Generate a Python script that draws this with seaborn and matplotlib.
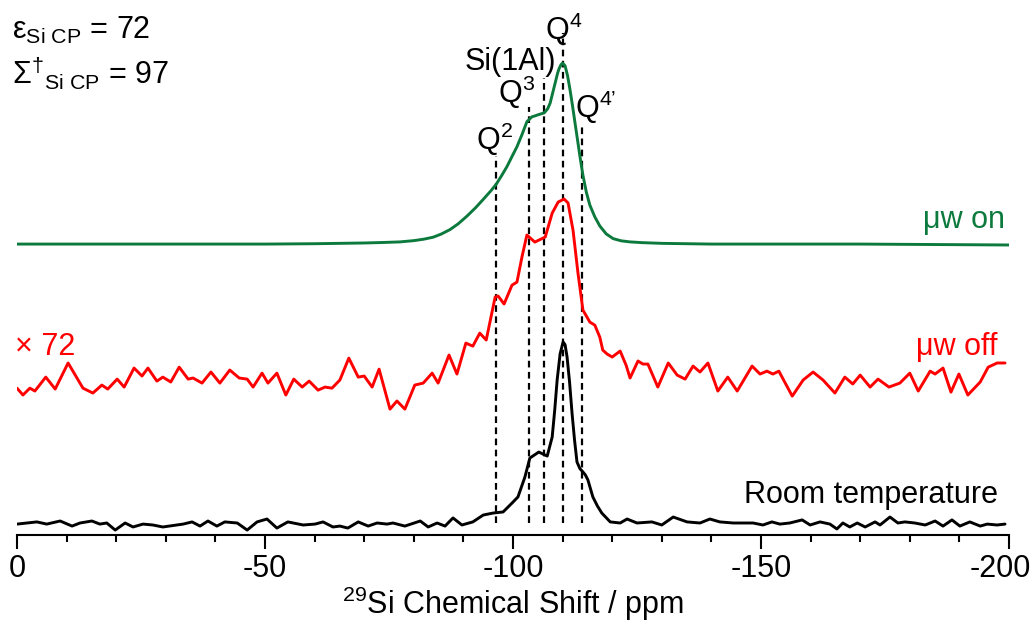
import numpy as np
import pandas as pd
import matplotlib
matplotlib.use("Agg")
import matplotlib.pyplot as plt
import matplotlib.transforms as mtransforms
import seaborn as sns

# ---------------- data ----------------
# chemical shift in ppm, normalised intensity
green_ppm = [0, -30, -50, -60, -65, -70, -74, -77.2, -80, -82, -83.9, -85.5, -87.3, -89,
             -90.7, -92.5, -94.0, -95.5, -96.6, -97.7, -98.8, -99.8, -100.8, -101.8,
             -102.8, -103.8, -104.4, -105.0, -106.3, -107.0, -107.5, -108.0, -108.5,
             -109.0, -109.3, -109.7, -110.0, -110.5, -111.0, -111.5, -112.0, -112.5,
             -113.0, -113.5, -114.1, -114.8, -115.5, -116.5, -117.5, -118.8, -120.2,
             -121.8, -123.6, -126, -130, -140, -170, -200]
green_int = [0.0, 0.0, 0.0, 0.002, 0.004, 0.006, 0.009, 0.012, 0.019, 0.027, 0.038, 0.055,
             0.080, 0.113, 0.154, 0.202, 0.247, 0.293, 0.330, 0.378, 0.429, 0.484, 0.538,
             0.604, 0.676, 0.703, 0.708, 0.714, 0.725, 0.748, 0.780, 0.835, 0.890,
             0.945, 0.970, 0.992, 1.0, 0.985, 0.930, 0.852, 0.764, 0.670,
             0.577, 0.484, 0.380, 0.285, 0.215, 0.150, 0.100, 0.056, 0.030,
             0.018, 0.012, 0.008, 0.004, 0.0, 0.0, -0.005]

red_ppm = [0.0, -1.2, -2.6, -3.6, -5.8, -7.7, -10.3, -13.3, -15.3, -17.1, -18.3, -20.2,
           -21.6, -23.6, -25.2, -26.4, -28.2, -29.4, -31.0, -32.7, -34.5, -35.5, -37.3,
           -39.1, -40.9, -42.9, -44.8, -46.4, -47.6, -49.4, -50.6, -52.4, -54.2, -55.8,
           -57.5, -58.9, -60.7, -62.1, -63.5, -65.1, -66.9, -68.8, -70.0, -71.6, -73.0,
           -75.2, -76.6, -78.2, -80.2, -81.9, -83.7, -84.9, -87.1, -88.7, -90.5, -91.9,
           -93.3, -94.6, -96.4, -97.0, -98.2, -99.8, -100.8, -101.8, -102.8, -104.4,
           -106.5, -107.9, -109.1, -110.3, -111.1, -112.1, -113.1, -114.1, -115.5,
           -116.5, -117.5, -118.1, -119.0, -120.0, -121.6, -122.8, -123.6, -125.2,
           -126.2, -127.2, -129.2, -131.3, -133.1, -134.7, -136.3, -137.7, -139.3,
           -141.3, -143.3, -145.2, -148.2, -149.8, -151.2, -152.4, -153.6, -156.3,
           -158.5, -160.5, -162.5, -164.9, -166.9, -168.5, -170.0, -172.0, -173.6,
           -175.8, -178.0, -180.0, -181.7, -184.1, -185.1, -186.7, -188.3, -189.9,
           -191.7, -194.2, -195.8, -197.6, -199.2]
red_int = [-0.017, -0.055, -0.017, -0.033, 0.044, -0.022, 0.122, -0.017, -0.044, 0.0, -0.022, 0.033,
           -0.011, 0.094, 0.050, 0.094, 0.022, 0.044, 0.017, 0.099, 0.033, 0.039, 0.011,
           0.072, 0.011, 0.083, 0.039, 0.033, -0.011, 0.066, 0.011, 0.066, -0.055, 0.033,
           -0.011, 0.022, -0.028, -0.011, -0.017, 0.028, 0.149, 0.044, 0.050, -0.011, 0.088,
           -0.133, -0.088, -0.133, 0.0, 0.011, 0.066, 0.011, 0.166, 0.061, 0.232, 0.215,
           0.287, 0.249, 0.486, 0.492, 0.448, 0.552, 0.569, 0.707, 0.829, 0.790,
           0.818, 0.950, 1.011, 1.028, 1.006, 0.856, 0.619, 0.414, 0.348,
           0.331, 0.265, 0.193, 0.171, 0.155, 0.188, 0.110, 0.039, 0.133,
           0.116, 0.116, -0.011, 0.122, 0.055, 0.033, 0.105, 0.072, 0.122,
           -0.033, 0.044, -0.033, 0.105, 0.061, 0.077, 0.061, 0.077, -0.061,
           0.028, 0.072, 0.028, -0.044, 0.044, 0.006, 0.055, -0.011, 0.033,
           -0.011, 0.011, 0.066, -0.033, 0.077, 0.061, 0.094, -0.039, 0.061,
           -0.055, 0.017, 0.099, 0.122, 0.122]

black_ppm = [0.0, -2.0, -4.0, -6.0, -8.7, -11.1, -12.7, -15.1, -16.7, -18.1, -19.8, -21.8,
             -23.4, -25.4, -27.4, -29.4, -33.5, -35.3, -36.9, -38.5, -40.3, -41.9, -44.4,
             -46.4, -48.4, -50.4, -52.4, -54.6, -57.7, -60.1, -61.7, -63.7, -65.1, -66.7,
             -68.8, -70.8, -72.6, -74.6, -75.8, -78.2, -81.3, -82.9, -84.7, -86.3, -87.9,
             -89.7, -91.9, -94.0, -96.0, -98.0, -99.8, -101.0, -102.4, -103.4, -105.2,
             -106.9, -107.9, -108.4, -108.9, -109.5, -110.1, -110.5, -110.9, -111.4,
             -111.9, -112.4, -112.9, -113.5, -114.1, -114.6, -115.1, -116.1, -117.0,
             -117.9, -119.6, -121.6, -123.0, -125.0, -128.0, -130.0, -132.3,
             -135.1, -137.7, -139.7, -141.7, -144.4, -148.4, -150.4, -152.2, -153.8,
             -155.8, -158.3, -159.9, -161.9, -163.9, -165.3, -166.5, -167.9, -169.4,
             -171.0, -173.0, -174.0, -176.0, -177.6, -179.0, -181.0, -183.1, -185.1,
             -186.7, -188.5, -190.1, -192.1, -194.2, -195.6, -197.6, -199.2]
black_int = [-0.006, 0.0, 0.006, -0.006, 0.011, -0.017, 0.0, 0.011, -0.006, 0.0, -0.039, 0.0,
             -0.022, -0.006, -0.011, -0.022, -0.006, 0.006, -0.017, 0.011, -0.017, 0.006, 0.0,
             -0.039, 0.006, 0.022, -0.028, 0.006, -0.011, -0.006, 0.006, -0.022, -0.017, -0.028,
             0.006, -0.017, 0.0, -0.006, 0.0, -0.017, 0.011, -0.022, 0.0, -0.017, 0.028,
             -0.011, 0.006, 0.044, 0.055, 0.061, 0.110, 0.144, 0.254, 0.359, 0.392,
             0.370, 0.475, 0.620, 0.790, 0.935, 1.0, 0.985, 0.917, 0.780,
             0.608, 0.460, 0.337, 0.300, 0.282, 0.265, 0.238, 0.144, 0.095,
             0.055, 0.006, 0.0, 0.022, 0.0, 0.006, -0.011, 0.033,
             0.006, 0.0, 0.022, 0.006, 0.0, 0.0, -0.011, 0.006, -0.006,
             0.0, 0.017, -0.011, 0.006, -0.006, -0.033, 0.0, -0.022, 0.0,
             -0.022, 0.006, -0.011, 0.033, 0.0, 0.006, 0.0, -0.011, 0.011,
             -0.017, 0.017, -0.017, 0.006, -0.017, -0.006, -0.011, -0.006]

site_labels = ["Q$^{2}$", "Q$^{3}$", "Si(1Al)", "Q$^{4}$", "Q$^{4\u2019}$"]
site_ppm = [-96.5, -103.2, -106.3, -110.0, -114.0]

tick_values = [0, -50, -100, -150, -200]

# ---------------- style ----------------
sns.set_style("white")
plt.rcParams["font.family"] = ["Liberation Sans", "DejaVu Sans"]
plt.rcParams["mathtext.fontset"] = "custom"
plt.rcParams["mathtext.rm"] = "Liberation Sans"
plt.rcParams["mathtext.it"] = "Liberation Sans:italic"
plt.rcParams["mathtext.bf"] = "Liberation Sans:bold"
plt.rcParams["axes.unicode_minus"] = False
plt.rcParams["text.color"] = "black"
plt.rcParams["axes.labelcolor"] = "black"
plt.rcParams["xtick.color"] = "black"
plt.rcParams["lines.solid_joinstyle"] = "round"
plt.rcParams["lines.solid_capstyle"] = "round"

FS = 22
GREEN = "#0c7a3c"
RED = "#ff0000"

fig = plt.figure(figsize=(10.35, 6.21), dpi=100)
ax = fig.add_axes([17 / 1035, 86 / 621, 992 / 1035, 535 / 621])

offsets = {"green": 1.541, "red": 0.762, "black": 0.0}
frames = [
    pd.DataFrame({"ppm": black_ppm, "y": np.array(black_int) + offsets["black"]}),
    pd.DataFrame({"ppm": red_ppm, "y": np.array(red_int) + offsets["red"]}),
    pd.DataFrame({"ppm": green_ppm, "y": np.array(green_int) + offsets["green"]}),
]
colors = ["black", RED, GREEN]
for df, c in zip(frames, colors):
    sns.lineplot(data=df, x="ppm", y="y", color=c, lw=2.1, ax=ax, sort=True,
                 estimator=None)

# dashed site markers
site_tops = [2.028, 2.298, 2.459, 2.707, 2.188]
for p, t in zip(site_ppm, site_tops):
    ax.plot([p, p], [0.0, t], color="black", lw=1.6, ls=(0, (3, 2)), zorder=1)

# site labels
label_pos = [(-96.2, 2.061), (-100.7, 2.320), (-99.4, 2.503), (-110.3, 2.669), (-116.7, 2.238)]
for lab, (lx, ly) in zip(site_labels, label_pos):
    ax.text(lx, ly, lab, ha="center", va="baseline", fontsize=FS, color="black")

# trace labels
ax.text(-199.2, 1.630, "\u03bcw on", ha="right", va="baseline", fontsize=FS, color=GREEN)
ax.text(-197.6, 0.928, "\u03bcw off", ha="right", va="baseline", fontsize=FS, color=RED)
ax.text(0.4, 0.928, "\u00d7 72", ha="left", va="baseline", fontsize=FS, color=RED)
ax.text(-197.8, 0.110, "Room temperature", ha="right", va="baseline", fontsize=FS,
        color="black")

# enhancement annotations
ax.text(1.0, 2.674, "\u03b5$_{\\mathrm{Si\\ CP}}$ = 72", ha="left", va="baseline",
        fontsize=FS)
ax.text(1.0, 2.420, "\u03a3$^{\\dag}{}_{\\mathrm{Si\\ CP}}$ = 97", ha="left", va="baseline",
        fontsize=FS)

# axes
ax.set_xlim(0, -200)
ax.set_ylim(-0.0663, 2.8895)
ax.set_xticks(tick_values)
ax.set_xticklabels([str(v) for v in tick_values])
ax.set_xticks(np.arange(0, -201, -10), minor=True)
ax.tick_params(axis="x", which="major", direction="out", length=10, width=1.5,
               labelsize=FS, pad=4, bottom=True, colors="black")
ax.tick_params(axis="x", which="minor", direction="out", length=5, width=1.5, bottom=True,
               colors="black")
ax.set_yticks([])
for s in ["top", "left", "right"]:
    ax.spines[s].set_visible(False)
ax.spines["bottom"].set_linewidth(1.5)
ax.spines["bottom"].set_color("black")
ax.set_ylabel("")
ax.set_xlabel("$^{29}$Si Chemical Shift / ppm", fontsize=FS, labelpad=0)

# keep the last tick label inside the figure, as in the reference
last = ax.get_xticklabels()[-1]
last.set_transform(last.get_transform() +
                   mtransforms.ScaledTranslation(-9 / 100, 0, fig.dpi_scale_trans))

fig.savefig("out.png", dpi=100)
